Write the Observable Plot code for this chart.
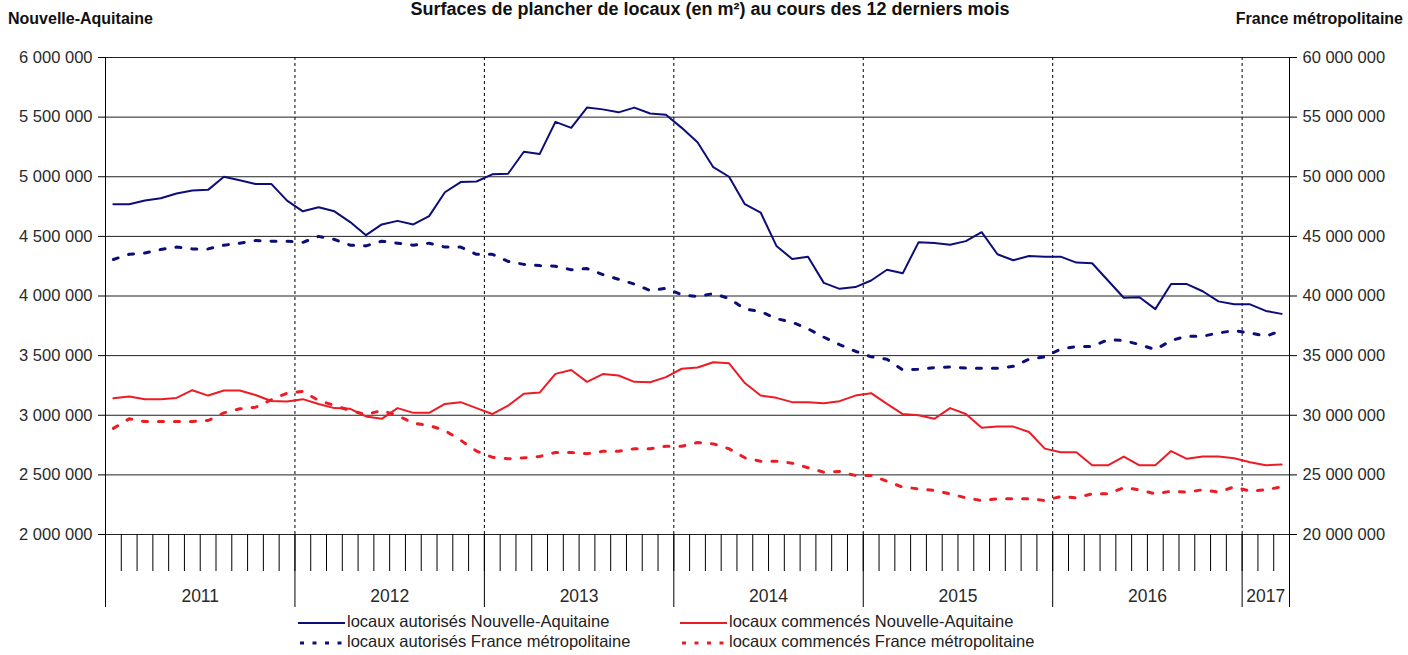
<!DOCTYPE html>
<html><head><meta charset="utf-8">
<script src="https://cdn.jsdelivr.net/npm/d3@7"></script>
<script src="https://cdn.jsdelivr.net/npm/@observablehq/plot@0.6"></script>
<style>
body{margin:0;background:#fff;font-family:"Liberation Sans",Arial,sans-serif;}
#wrap{position:relative;width:1408px;height:655px;overflow:hidden;background:#fff;}
.t{position:absolute;white-space:nowrap;color:#111;}
.lg{position:absolute;white-space:nowrap;font-size:16.5px;line-height:18px;color:#222;}
.lg svg{vertical-align:middle;margin-right:2px;}
</style></head><body><div id="wrap">
<div class="t" style="left:0;width:1420px;text-align:center;top:0px;font-weight:bold;font-size:18px;line-height:18px;">Surfaces de plancher de locaux (en m²) au cours des 12 derniers mois</div>
<div class="t" style="left:8px;top:10px;font-weight:bold;font-size:16px;line-height:17px;">Nouvelle-Aquitaine</div>
<div class="t" style="right:5px;top:10px;font-weight:bold;font-size:16px;line-height:17px;">France métropolitaine</div>
<div id="chart" style="position:absolute;left:0;top:0"></div>
</div>
<script>
// Surfaces (m²) cumulées sur 12 mois, janvier 2011 à mars 2017 (75 mois)
const years = ["2011","2012","2013","2014","2015","2016","2017"];
const monthsPerYear = [12,12,12,12,12,12,3];

const nouvAut = [4770000,4770000,4800000,4820000,4860000,4885000,4890000,5000000,4970000,4940000,4940000,4800000,
4710000,4745000,4710000,4620000,4510000,4600000,4630000,4600000,4670000,4870000,4955000,4960000,
5020000,5025000,5210000,5190000,5460000,5410000,5580000,5565000,5540000,5580000,5530000,5520000,
5410000,5290000,5080000,5000000,4770000,4700000,4420000,4310000,4330000,4110000,4060000,4075000,
4130000,4220000,4190000,4450000,4445000,4430000,4460000,4535000,4350000,4300000,4335000,4330000,
4330000,4280000,4275000,4130000,3985000,3990000,3890000,4100000,4100000,4040000,3955000,3930000,
3930000,3875000,3850000];

const franceAut = [43060000,43500000,43600000,43900000,44100000,43950000,43950000,44260000,44430000,44650000,44600000,44600000,
44500000,45000000,44740000,44260000,44200000,44600000,44430000,44260000,44430000,44100000,44100000,43500000,
43500000,42900000,42650000,42550000,42500000,42200000,42300000,41800000,41400000,41000000,40460000,40650000,
40100000,39960000,40200000,39800000,38900000,38700000,38100000,37800000,37250000,36550000,35930000,35370000,
34900000,34700000,33800000,33850000,34000000,34050000,33950000,33950000,33950000,34100000,34700000,34900000,
35550000,35770000,35770000,36330000,36270000,35930000,35500000,36270000,36630000,36630000,36900000,37100000,
36900000,36630000,37100000];

const nouvCom = [3143000,3157000,3135000,3135000,3145000,3210000,3165000,3207000,3207000,3170000,3120000,3115000,
3135000,3095000,3060000,3054000,2990000,2970000,3060000,3020000,3020000,3095000,3110000,3060000,
3010000,3080000,3180000,3190000,3347000,3380000,3280000,3345000,3333000,3280000,3277000,3320000,
3390000,3400000,3445000,3436000,3270000,3165000,3146000,3110000,3110000,3100000,3118000,3165000,
3185000,3095000,3010000,3000000,2970000,3060000,3010000,2895000,2905000,2905000,2860000,2720000,
2690000,2690000,2580000,2580000,2654000,2580000,2580000,2700000,2635000,2654000,2654000,2640000,
2606000,2580000,2587000];

const franceCom = [28900000,29700000,29470000,29470000,29470000,29470000,29560000,30200000,30540000,30670000,31300000,31850000,
32000000,31240000,30820000,30400000,30060000,30400000,29980000,29330000,29140000,28720000,27900000,27000000,
26480000,26350000,26430000,26540000,26880000,26880000,26770000,26980000,26980000,27190000,27190000,27400000,
27400000,27710000,27600000,27190000,26430000,26150000,26150000,25980000,25600000,25220000,25280000,24950000,
24950000,24470000,23970000,23830000,23690000,23410000,23070000,22850000,22990000,22990000,22990000,22850000,
23180000,23070000,23410000,23410000,23920000,23750000,23410000,23630000,23550000,23750000,23550000,24000000,
23630000,23750000,24000000];

const leftTicks = [2000000,2500000,3000000,3500000,4000000,4500000,5000000,5500000,6000000];
const rightTicks = [20000000,25000000,30000000,35000000,40000000,45000000,50000000,55000000,60000000];

const seriesNames = ["locaux autorisés Nouvelle-Aquitaine","locaux commencés Nouvelle-Aquitaine",
  "locaux autorisés France métropolitaine","locaux commencés France métropolitaine"];
const BLUE = "#0d0d7a", RED = "#ec1c24";
const RATIO = 10; // échelle droite = 10 × échelle gauche

const nMonths = d3.sum(monthsPerYear);
const yearStarts = d3.cumsum([0, ...monthsPerYear]).slice(0, -1);
const yearMid = new Map(years.map((y, i) => [yearStarts[i] + monthsPerYear[i] / 2, y]));

const rows = (arr, scale) => arr.map((v, i) => ({m: i + 0.5, v: v / scale}));
const fmt = v => d3.format(",")(Math.round(v)).replace(/,/g, " ");

const plot = Plot.plot({
  width: 1408, height: 615,
  marginLeft: 105, marginRight: 119, marginTop: 57, marginBottom: 81,
  style: {fontFamily: "Liberation Sans, Arial, sans-serif", fontSize: "16.5px", color: "#000", background: "transparent"},
  x: {type: "linear", domain: [0, nMonths], axis: null},
  y: {domain: [leftTicks[0], leftTicks[leftTicks.length - 1]], axis: null},
  marks: [
    Plot.ruleY(leftTicks, {stroke: "#222", strokeWidth: 1}),
    Plot.ruleX(yearStarts.slice(1), {y1: leftTicks[0], y2: leftTicks[leftTicks.length - 1], stroke: "#000", strokeDasharray: "3,3", strokeWidth: 1}),
    Plot.ruleX([0, nMonths], {y1: leftTicks[0], y2: leftTicks[leftTicks.length - 1], stroke: "#000", strokeWidth: 1}),
    Plot.axisY({anchor: "left", ticks: leftTicks, tickSize: 7, tickPadding: 6, tickFormat: fmt, fill: "#2a2a2a", fontSize: 16.5, label: null}),
    Plot.axisY({anchor: "right", ticks: leftTicks, tickSize: 7, tickPadding: 6, tickFormat: (d, i) => fmt(rightTicks[i]), fill: "#2a2a2a", fontSize: 16.5, label: null}),
    Plot.axisX({ticks: d3.range(0, nMonths + 1), tickSize: 37, tickFormat: () => "", label: null}),
    Plot.axisX({ticks: [...yearStarts, nMonths], tickSize: 73, tickFormat: () => "", label: null}),
    Plot.axisX({ticks: [...yearMid.keys()], tickSize: 0, tickPadding: 55, tickFormat: d => yearMid.get(d), fontSize: 17.5, fill: "#2a2a2a", label: null}),
    Plot.line(rows(franceCom, RATIO), {x: "m", y: "v", stroke: RED, strokeWidth: 3, strokeDasharray: "5,11"}),
    Plot.line(rows(franceAut, RATIO), {x: "m", y: "v", stroke: BLUE, strokeWidth: 3, strokeDasharray: "5,11"}),
    Plot.line(rows(nouvCom, 1), {x: "m", y: "v", stroke: RED, strokeWidth: 2}),
    Plot.line(rows(nouvAut, 1), {x: "m", y: "v", stroke: BLUE, strokeWidth: 2})
  ]
});
document.getElementById("chart").appendChild(plot);

// legend
const wrap = document.getElementById("wrap");
const legendItems = [
  {name: seriesNames[0], color: BLUE, dash: null, x: 298, y: 612},
  {name: seriesNames[1], color: RED, dash: null, x: 680, y: 612},
  {name: seriesNames[2], color: BLUE, dash: "4,8.5", x: 298, y: 632},
  {name: seriesNames[3], color: RED, dash: "4,8.5", x: 680, y: 632}
];
for (const it of legendItems) {
  const d = document.createElement("div");
  d.className = "lg";
  d.style.left = it.x + "px";
  d.style.top = it.y + "px";
  d.innerHTML = `<svg width="47" height="6"><line x1="0" y1="3" x2="47" y2="3" stroke="${it.color}" stroke-width="${it.dash ? 3 : 2}" ${it.dash ? `stroke-dasharray="${it.dash}" stroke-dashoffset="-2"` : ""}/></svg>` + it.name;
  wrap.appendChild(d);
}
</script>
</body></html>
